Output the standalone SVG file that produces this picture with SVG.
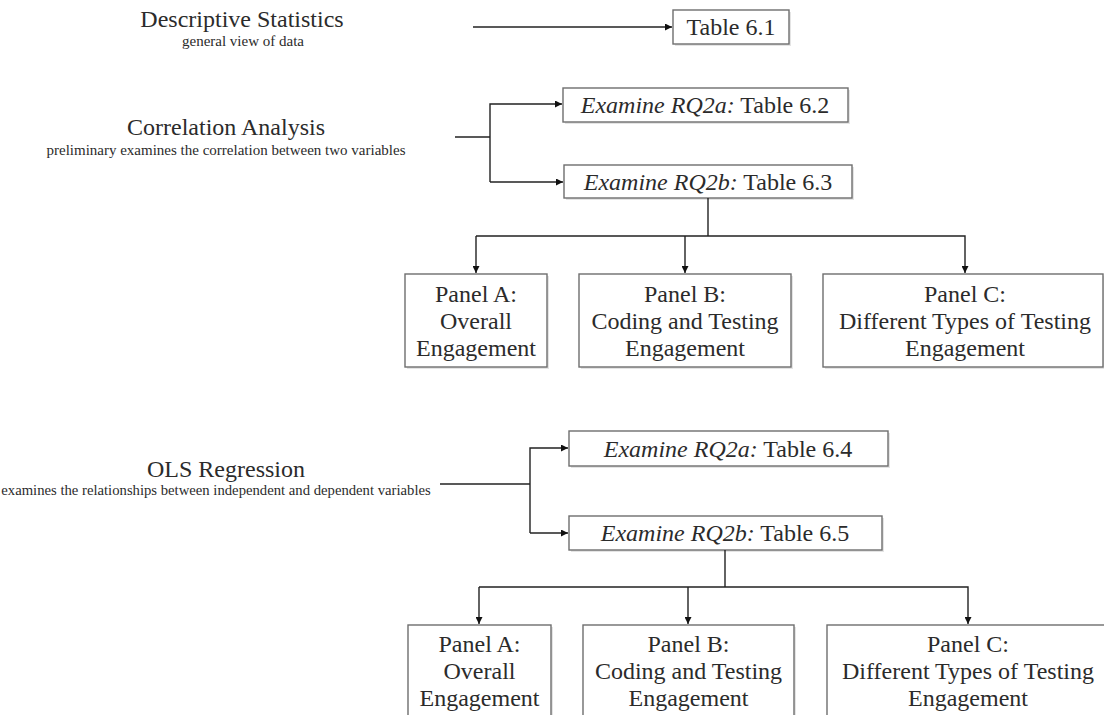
<svg xmlns="http://www.w3.org/2000/svg" width="1104" height="715" viewBox="0 0 1104 715">
<defs>
<style>
.t{font-family:"Liberation Serif","Times New Roman",serif;fill:#2b2b2b;text-anchor:middle}
.h{font-size:24px}
.s{font-size:15px}
.b{fill:#fff;stroke:#6e6e6e;stroke-width:1.4}
.sh{fill:#e4e4e4}
.c{fill:none;stroke:#222;stroke-width:1.4}
.i{font-style:italic}
</style>
<marker id="ah" viewBox="0 0 10 10" refX="10" refY="5" markerWidth="7" markerHeight="7" markerUnits="userSpaceOnUse" orient="auto">
<path d="M0,0 L10,5 L0,10 z" fill="#111"/>
</marker>
</defs>
<rect width="1104" height="715" fill="#fff"/>

<g id="descriptive">
<text class="t h" x="242" y="27">Descriptive Statistics</text>
<text class="t s" x="243" y="46">general view of data</text>
</g>
<g id="correlation">
<text class="t h" x="226" y="135">Correlation Analysis</text>
<text class="t s" x="226" y="155">preliminary examines the correlation between two variables</text>
</g>
<g id="ols">
<text class="t h" x="226" y="477">OLS Regression</text>
<text class="t s" x="216" y="495" style="font-size:14.7px">examines the relationships between independent and dependent variables</text>
</g>

<g id="table61">
<rect class="sh" x="675" y="12" width="116" height="34"/>
<rect class="b" x="673" y="10" width="116" height="34"/>
<text class="t h" x="731" y="35">Table 6.1</text>
</g>
<g id="table62">
<rect class="sh" x="565" y="90" width="285" height="34"/>
<rect class="b" x="563" y="88" width="285" height="34"/>
<text class="t h" x="705" y="113"><tspan class="i">Examine RQ2a:</tspan> Table 6.2</text>
</g>
<g id="table63">
<rect class="sh" x="566" y="167" width="288" height="33"/>
<rect class="b" x="564" y="165" width="288" height="33"/>
<text class="t h" x="708" y="190"><tspan class="i">Examine RQ2b:</tspan> Table 6.3</text>
</g>
<g id="panelA1">
<rect class="sh" x="407" y="276" width="142" height="93"/>
<rect class="b" x="405" y="274" width="142" height="93"/>
<text class="t h" x="476" y="302">Panel A:</text>
<text class="t h" x="476" y="329">Overall</text>
<text class="t h" x="476" y="356">Engagement</text>
</g>
<g id="panelB1">
<rect class="sh" x="581" y="276" width="212" height="93"/>
<rect class="b" x="579" y="274" width="212" height="93"/>
<text class="t h" x="685" y="302">Panel B:</text>
<text class="t h" x="685" y="329">Coding and Testing</text>
<text class="t h" x="685" y="356">Engagement</text>
</g>
<g id="panelC1">
<rect class="sh" x="825" y="276" width="280" height="93"/>
<rect class="b" x="823" y="274" width="280" height="93"/>
<text class="t h" x="965" y="302">Panel C:</text>
<text class="t h" x="965" y="329">Different Types of Testing</text>
<text class="t h" x="965" y="356">Engagement</text>
</g>

<g id="table64">
<rect class="sh" x="571" y="433" width="319" height="35"/>
<rect class="b" x="569" y="431" width="319" height="35"/>
<text class="t h" x="728" y="457"><tspan class="i">Examine RQ2a:</tspan> Table 6.4</text>
</g>
<g id="table65">
<rect class="sh" x="571" y="518" width="313" height="34"/>
<rect class="b" x="569" y="516" width="313" height="34"/>
<text class="t h" x="725" y="541"><tspan class="i">Examine RQ2b:</tspan> Table 6.5</text>
</g>
<g id="panelA2">
<rect class="sh" x="410" y="627" width="143" height="93"/>
<rect class="b" x="408" y="625" width="143" height="93"/>
<text class="t h" x="479.5" y="652">Panel A:</text>
<text class="t h" x="479.5" y="679">Overall</text>
<text class="t h" x="479.5" y="706">Engagement</text>
</g>
<g id="panelB2">
<rect class="sh" x="585" y="627" width="211" height="93"/>
<rect class="b" x="583" y="625" width="211" height="93"/>
<text class="t h" x="688.5" y="652">Panel B:</text>
<text class="t h" x="688.5" y="679">Coding and Testing</text>
<text class="t h" x="688.5" y="706">Engagement</text>
</g>
<g id="panelC2">
<rect class="sh" x="829" y="627" width="282" height="93"/>
<rect class="b" x="827" y="625" width="282" height="93"/>
<text class="t h" x="968" y="652">Panel C:</text>
<text class="t h" x="968" y="679">Different Types of Testing</text>
<text class="t h" x="968" y="706">Engagement</text>
</g>

<g id="connectors">
<path class="c" d="M473,27 H672" marker-end="url(#ah)"/>
<path class="c" d="M455,137 H490"/>
<path class="c" d="M490,182 V104 H562" marker-end="url(#ah)"/>
<path class="c" d="M490,182 H563" marker-end="url(#ah)"/>
<path class="c" d="M708,198 V236"/>
<path class="c" d="M476,236 H965 V273" marker-end="url(#ah)"/>
<path class="c" d="M476,236 V273" marker-end="url(#ah)"/>
<path class="c" d="M685,236 V273" marker-end="url(#ah)"/>
<path class="c" d="M440,484 H530"/>
<path class="c" d="M530,533 V448 H568" marker-end="url(#ah)"/>
<path class="c" d="M530,533 H568" marker-end="url(#ah)"/>
<path class="c" d="M725,550 V587"/>
<path class="c" d="M479,587 H968 V624" marker-end="url(#ah)"/>
<path class="c" d="M479,587 V624" marker-end="url(#ah)"/>
<path class="c" d="M688,587 V624" marker-end="url(#ah)"/>
</g>
</svg>
